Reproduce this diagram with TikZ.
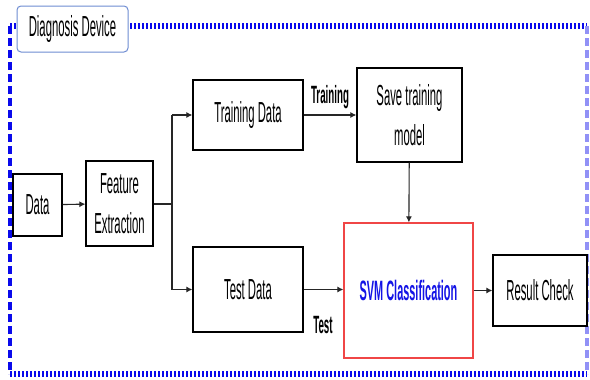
\documentclass[tikz,border=0pt]{standalone}
\usepackage{fontspec}
\setmainfont{Liberation Sans}[FakeStretch=0.39]
\usetikzlibrary{arrows.meta}
\definecolor{frameblue}{RGB}{10,10,235}
\definecolor{labelblue}{RGB}{110,140,210}
\definecolor{svmred}{RGB}{240,70,70}
\definecolor{svmtext}{RGB}{20,20,230}
\tikzset{
  box/.style={draw=black, line width=1.2pt, fill=white, inner sep=0pt, align=center,
    font=\fontsize{29}{40}\selectfont},
  conn/.style={line width=1.1pt, draw=black!85},
  arr/.style={conn, -{Latex[length=6pt,width=6pt]}},
  lbl/.style={inner sep=0pt, font=\fontsize{25}{28}\selectfont\bfseries},
  hframe/.style={frameblue, line width=6pt, dash pattern=on 2.2pt off 1.8pt},
  vframe/.style={frameblue, line width=3.5pt, dash pattern=on 8pt off 4pt},
}
\begin{document}
\begin{tikzpicture}[x=1pt,y=-1pt]
\useasboundingbox (0,0) rectangle (590,380);
\fill[white] (0,0) rectangle (590,380);
% frame
\coordinate (ftl) at (10,26);
\coordinate (ftr) at (587,26);
\coordinate (fbl) at (10,374);
\coordinate (fbr) at (587,374);
\draw[hframe] (ftl) -- (ftr);
\draw[hframe] (fbl) -- (fbr);
\draw[vframe] (ftl) -- (fbl);
\draw[vframe, draw=frameblue!45] (ftr) -- (fbr);
% label
\node[box, draw=labelblue, line width=1pt, rounded corners=4pt, minimum width=111pt, minimum height=46pt] (dev) at (72.5,29) {Diagnosis Device};
% nodes
\node[box, minimum width=49pt, minimum height=62pt] (data) at (37.5,205) {Data};
\node[box, minimum width=67pt, minimum height=85pt] (fe) at (119.5,203.5) {Feature\\Extraction};
\node[box, minimum width=110pt, minimum height=70pt] (td) at (248,115) {Training Data};
\node[box, minimum width=105pt, minimum height=94pt] (save) at (409.5,115) {Save training\\model};
\node[box, minimum width=110pt, minimum height=85pt] (tst) at (248,289.5) {Test Data};
\node[box, draw=svmred, minimum width=129pt, minimum height=135pt, text=svmtext, font=\fontsize{28}{30}\selectfont\bfseries] (svm) at (408.5,290.5) {SVM Classification};
\node[box, minimum width=94pt, minimum height=71pt] (rc) at (540,290.5) {Result Check};
% connectors
\coordinate (jx) at (172,203);
\draw[arr] (data) -- (fe);
\draw[conn, line width=2pt] (fe.east) -- (fe.east -| jx);
\draw[conn] (jx |- td) -- (jx |- tst);
\draw[arr] (jx |- td) -- (td.west);
\draw[arr] (jx |- tst) -- (tst.west);
\draw[arr] (td.east) -- (td.east -| save.west);
\draw[arr] (save) -- (svm);
\draw[arr] (tst.east) -- (tst.east -| svm.west);
\draw[arr] (svm.east |- rc) -- (rc.west);
% labels
\node[lbl] (ltrain) at (330,97) {Training};
\node[lbl] (ltest) at (323,325) {Test};
\end{tikzpicture}
\end{document}
